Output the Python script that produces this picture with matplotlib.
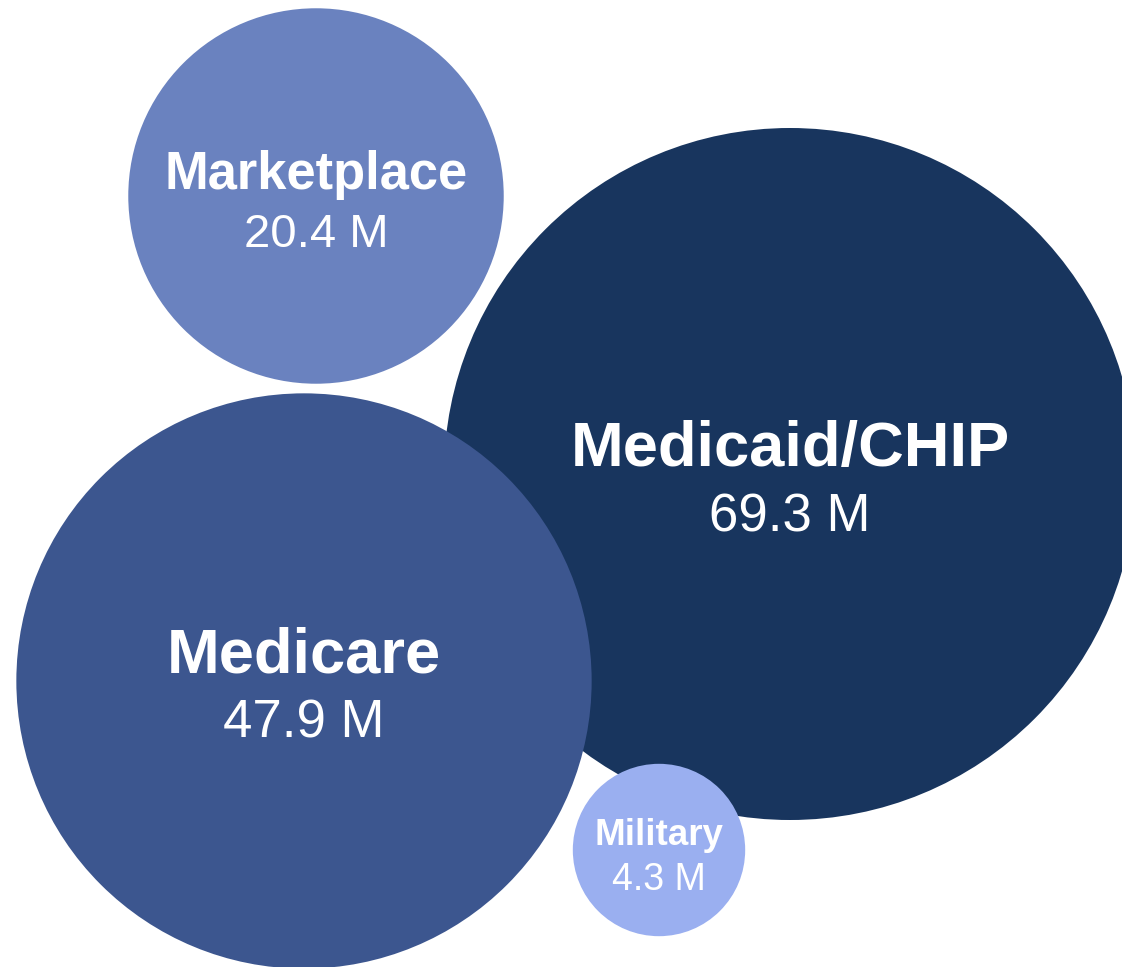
import numpy as np
import matplotlib.pyplot as plt
from matplotlib.patches import Circle

# datos
programas = ["Medicaid/CHIP", "Marketplace", "Medicare", "Military"]
inscritos = [69.3, 20.4, 47.9, 4.3]   # millones

# disposición (centros en píxeles de la figura) y estilos
centro_x = [790, 316, 304, 659]
centro_y = [474, 196, 681, 850]
colores = ["#18355e", "#6a82bf", "#3c568f", "#9aaff0"]
tam_nombre = [45.5, 37.8, 45.5, 26.5]
tam_valor = [38, 34, 38, 27]

ANCHO, ALTO = 1122, 967
escala = 346 / np.sqrt(max(inscritos))   # área proporcional al valor

fig = plt.figure(figsize=(ANCHO / 100, ALTO / 100), dpi=100)
ax = fig.add_axes([0, 0, 1, 1])
ax.set_xlim(0, ANCHO)
ax.set_ylim(ALTO, 0)
ax.set_aspect("equal")
ax.axis("off")

for i, (nombre, valor) in enumerate(zip(programas, inscritos)):
    r = escala * np.sqrt(valor)
    cx, cy = centro_x[i], centro_y[i]
    ax.add_patch(Circle((cx, cy), r, facecolor=colores[i], edgecolor="none", zorder=i))
    fn = tam_nombre[i] * 100 / 72   # en píxeles
    fv = tam_valor[i] * 100 / 72
    # líneas base: nombre justo encima del centro, valor debajo
    ax.text(cx, cy - 0.13 * fn, nombre, ha="center", va="baseline", color="white",
            fontsize=tam_nombre[i], fontweight="bold", family="Liberation Sans", zorder=10)
    ax.text(cx, cy + 1.08 * fv, f"{valor} M", ha="center", va="baseline", color="white",
            fontsize=tam_valor[i], family="Liberation Sans", zorder=10)

fig.savefig("out.png", dpi=100)
